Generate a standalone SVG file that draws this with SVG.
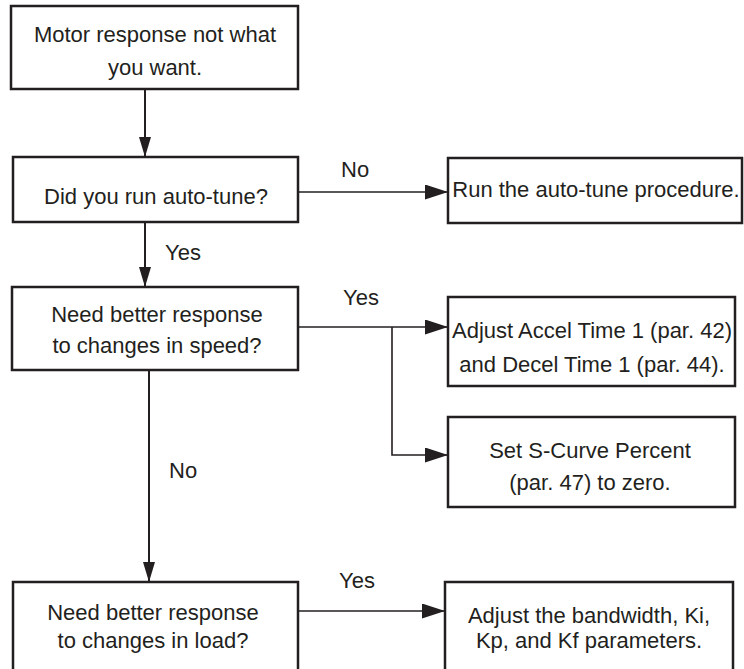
<svg xmlns="http://www.w3.org/2000/svg" width="744" height="669" viewBox="0 0 744 669">
<style>
  .box { fill: #ffffff; stroke: #231f20; stroke-width: 2.5; }
  .txt { font-family: "Liberation Sans", Arial, sans-serif; font-size: 22px; fill: #231f20; text-anchor: middle; }
  .lbl { font-family: "Liberation Sans", Arial, sans-serif; font-size: 22px; fill: #231f20; }
  .con { fill: none; stroke: #231f20; stroke-width: 2; }
  .conh { fill: none; stroke: #231f20; stroke-width: 1.6; }
</style>
<defs>
  <marker id="ah" markerUnits="userSpaceOnUse" markerWidth="23" markerHeight="15" refX="23" refY="7.5" orient="auto">
    <path d="M0,0 L23,7.5 L0,15 Z" fill="#231f20"/>
  </marker>
  <marker id="av" markerUnits="userSpaceOnUse" markerWidth="20" markerHeight="12" refX="20" refY="6" orient="auto">
    <path d="M0,0 L20,6 L0,12 Z" fill="#231f20"/>
  </marker>
</defs>
<rect width="744" height="669" fill="#ffffff"/>

<g id="connectors">
  <line class="con" x1="145" y1="89" x2="145" y2="157" marker-end="url(#av)"/>
  <line class="conh" x1="298" y1="192" x2="448" y2="192" marker-end="url(#ah)"/>
  <line class="con" x1="145" y1="222" x2="145" y2="287" marker-end="url(#av)"/>
  <line class="conh" x1="298" y1="327" x2="448" y2="327" marker-end="url(#ah)"/>
  <polyline class="conh" points="392,327 392,455 448,455" marker-end="url(#ah)"/>
  <line class="con" x1="149" y1="370" x2="149" y2="582" marker-end="url(#av)"/>
  <line class="conh" x1="298" y1="611" x2="445" y2="611" marker-end="url(#ah)"/>
  <text class="lbl" x="341" y="177">No</text>
  <text class="lbl" x="165" y="260">Yes</text>
  <text class="lbl" x="343" y="305">Yes</text>
  <text class="lbl" x="169" y="478">No</text>
  <text class="lbl" x="339" y="588">Yes</text>
</g>

<g id="start">
  <rect class="box" x="11" y="6" width="287" height="83"/>
  <text class="txt" x="155" y="42">Motor response not what</text>
  <text class="txt" x="155" y="75">you want.</text>
</g>

<g id="autotune-q">
  <rect class="box" x="13" y="157" width="285" height="65"/>
  <text class="txt" x="156" y="204">Did you run auto-tune?</text>
</g>

<g id="run-autotune">
  <rect class="box" x="448" y="158" width="294" height="65"/>
  <text class="txt" x="596" y="197">Run the auto-tune procedure.</text>
</g>

<g id="speed-q">
  <rect class="box" x="12" y="287" width="286" height="83"/>
  <text class="txt" x="157" y="322">Need better response</text>
  <text class="txt" x="157" y="353">to changes in speed?</text>
</g>

<g id="accel-decel">
  <rect class="box" x="448" y="297" width="287" height="89"/>
  <text class="txt" x="592" y="338">Adjust Accel Time 1 (par. 42)</text>
  <text class="txt" x="592" y="372">and Decel Time 1 (par. 44).</text>
</g>

<g id="s-curve">
  <rect class="box" x="448" y="417" width="287" height="90"/>
  <text class="txt" x="590" y="458">Set S-Curve Percent</text>
  <text class="txt" x="590" y="490">(par. 47) to zero.</text>
</g>

<g id="load-q">
  <rect class="box" x="13" y="582" width="285" height="100"/>
  <text class="txt" x="153" y="620">Need better response</text>
  <text class="txt" x="153" y="648">to changes in load?</text>
</g>

<g id="bandwidth">
  <rect class="box" x="445" y="582" width="288" height="100"/>
  <text class="txt" x="589" y="623">Adjust the bandwidth, Ki,</text>
  <text class="txt" x="589" y="648">Kp, and Kf parameters.</text>
</g>
</svg>
